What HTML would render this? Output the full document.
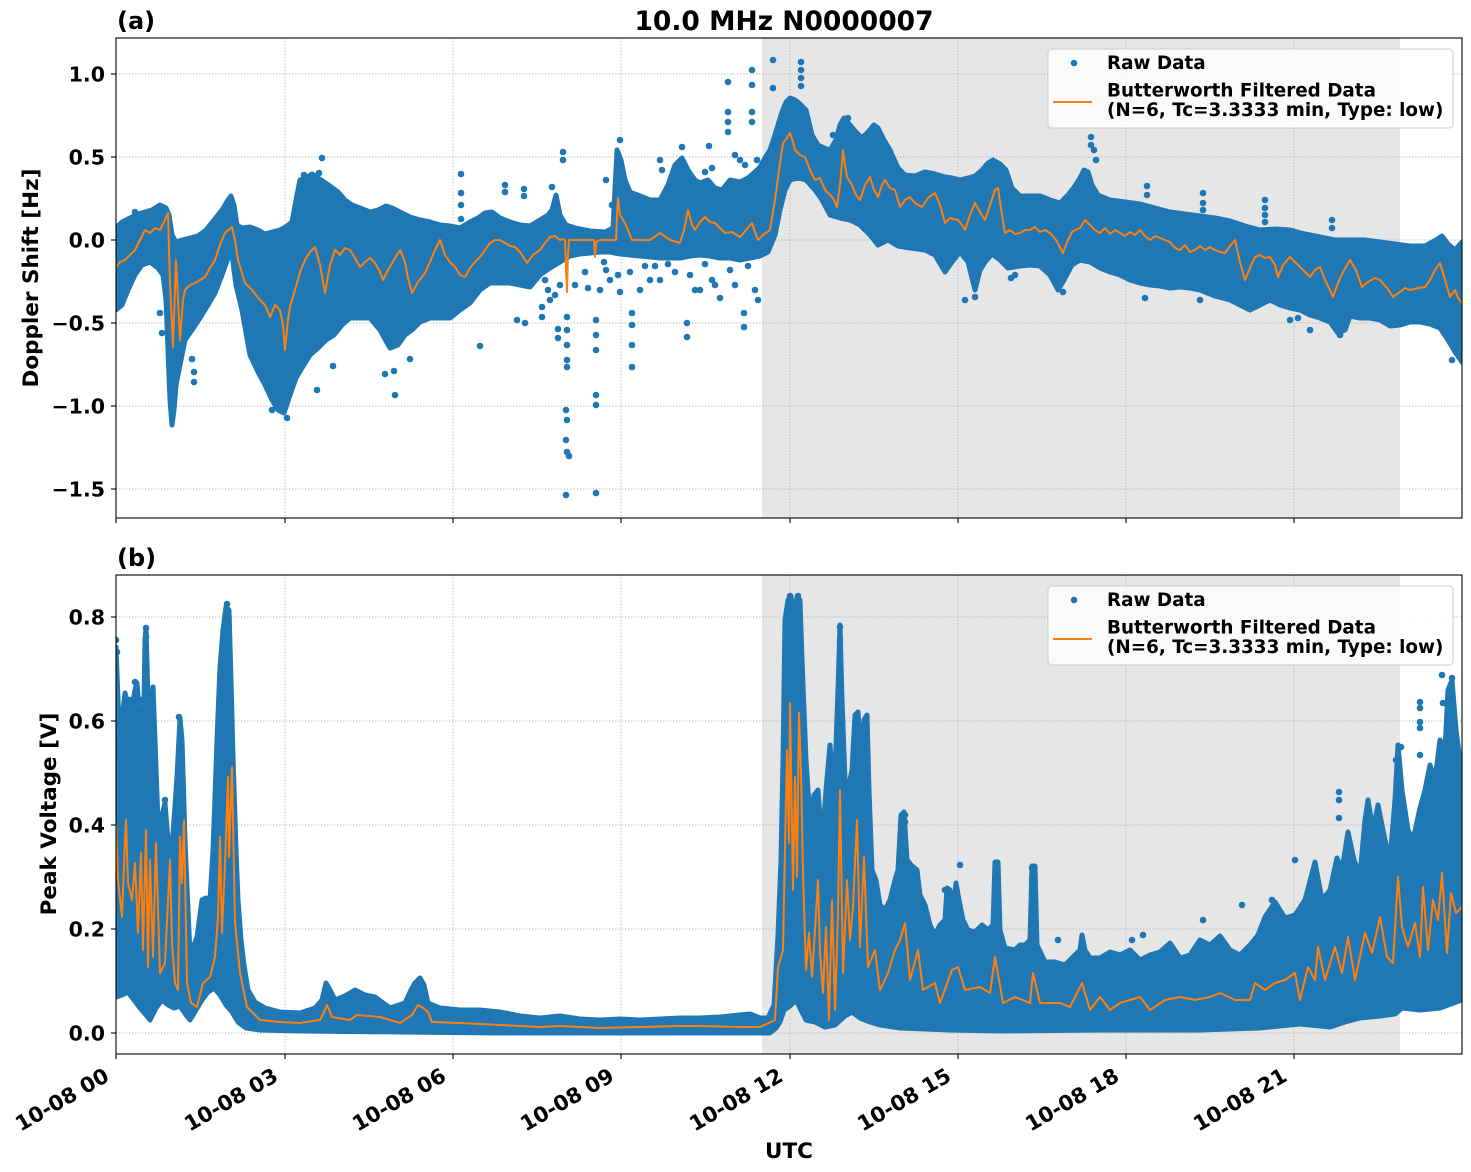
<!DOCTYPE html>
<html><head><meta charset="utf-8"><style>
html,body{margin:0;padding:0;background:#fff;}
svg{display:block;}
text{font-family:"DejaVu Sans","Liberation Sans",sans-serif;font-weight:bold;fill:#000;}
</style></head><body>
<svg width="1471" height="1172" viewBox="0 0 1471 1172" xmlns="http://www.w3.org/2000/svg">
<defs>
<clipPath id="ca"><rect x="116" y="38" width="1346" height="480"/></clipPath>
<clipPath id="cb"><rect x="116" y="575" width="1346" height="479"/></clipPath>
</defs>
<rect width="1471" height="1172" fill="#fff"/>

<!-- ===== TOP AXES ===== -->
<rect x="762" y="38" width="638" height="480" fill="#e6e6e6"/>
<g stroke="#b0b0b0" stroke-width="0.9" stroke-dasharray="1.2,2">
<line x1="285" y1="38" x2="285" y2="518"/><line x1="453" y1="38" x2="453" y2="518"/><line x1="621" y1="38" x2="621" y2="518"/><line x1="790" y1="38" x2="790" y2="518"/><line x1="958" y1="38" x2="958" y2="518"/><line x1="1126" y1="38" x2="1126" y2="518"/><line x1="1294" y1="38" x2="1294" y2="518"/>
<line x1="116" y1="74" x2="1462" y2="74"/><line x1="116" y1="157" x2="1462" y2="157"/><line x1="116" y1="240" x2="1462" y2="240"/><line x1="116" y1="323" x2="1462" y2="323"/><line x1="116" y1="406" x2="1462" y2="406"/><line x1="116" y1="489" x2="1462" y2="489"/>
</g>
<g clip-path="url(#ca)">
<polygon fill="#1f77b4" stroke="#1f77b4" stroke-width="5" stroke-linejoin="round" points="116,228 122,222 130,218 138,214 145,212 152,210 160,205 166,208 169,215 172,235 176,242 182,240 190,238 198,236 206,230 214,220 222,210 228,200 231,196 234,205 237,225 242,228 250,227 258,230 265,234 272,232 280,230 287,226 292,222 297,195 300,180 306,178 312,174 318,178 324,182 330,186 338,192 345,200 352,205 360,208 370,212 378,210 386,206 392,208 400,212 410,217 420,220 430,222 440,225 450,226 460,228 470,222 478,218 485,213 492,212 500,218 510,222 520,225 530,226 540,220 548,215 552,210 556,195 560,215 566,225 575,228 590,231 605,232 613,228 617,150 621,160 625,180 630,192 640,196 650,200 660,200 668,185 675,165 682,158 688,170 695,180 700,183 708,180 715,188 722,190 730,180 740,182 748,178 755,172 760,167 765,158 770,150 774,138 778,125 782,112 786,102 790,98 795,100 800,104 806,110 812,135 818,145 824,148 830,150 836,140 840,125 844,118 850,125 856,132 862,138 868,132 874,125 878,128 884,140 890,150 898,168 905,175 915,176 925,172 935,174 945,177 952,178 960,180 968,178 975,176 982,170 988,163 993,160 1000,164 1006,170 1012,188 1020,196 1030,196 1040,196 1050,200 1060,203 1068,195 1075,186 1080,178 1084,170 1088,172 1092,185 1098,195 1110,200 1125,202 1140,204 1155,208 1170,212 1185,214 1200,216 1215,218 1230,221 1245,226 1260,230 1275,229 1290,230 1305,234 1320,237 1335,240 1350,240 1365,240 1380,242 1395,244 1410,246 1425,246 1436,240 1442,236 1448,244 1455,250 1462,242 1466,242 1466,366 1462,362 1455,352 1448,340 1440,328 1430,324 1420,322 1410,322 1400,325 1390,326 1380,320 1370,318 1360,318 1350,316 1345,330 1338,333 1330,322 1320,318 1310,315 1300,310 1290,308 1280,305 1270,300 1260,305 1250,310 1240,305 1230,300 1215,296 1200,290 1190,288 1180,287 1170,288 1160,286 1150,285 1140,283 1130,280 1120,275 1110,272 1100,268 1090,262 1080,260 1072,265 1064,280 1058,290 1050,275 1040,266 1030,265 1020,266 1008,268 1000,260 992,254 985,262 980,270 975,290 968,262 960,252 952,262 945,272 935,255 925,250 910,248 898,246 888,240 878,245 870,235 860,225 850,220 840,218 830,215 822,200 815,190 806,180 798,178 790,180 785,190 780,210 775,235 768,252 760,256 750,258 740,260 730,258 720,258 710,256 700,255 690,256 680,258 670,258 660,258 650,257 640,256 630,255 620,254 610,252 600,252 590,253 580,254 570,256 560,262 550,268 540,275 530,287 520,285 510,283 500,283 490,283 480,290 470,303 460,310 450,318 440,318 430,318 420,322 412,330 405,335 398,345 390,348 380,330 370,318 360,318 350,318 342,325 334,335 326,340 318,348 310,355 302,368 296,378 290,395 284,413 278,410 272,400 265,385 258,372 250,355 242,310 236,285 232,255 228,258 222,275 215,293 208,305 200,318 192,330 185,340 180,365 176,385 174,410 172,425 170,400 168,350 166,300 163,275 158,268 150,262 142,265 135,275 128,290 122,305 116,310 112,310 112,228"/>
<g fill="#1f77b4">
<circle cx="322" cy="158" r="3.3"/><circle cx="319" cy="173" r="3.3"/><circle cx="304" cy="175" r="3.3"/><circle cx="461" cy="174" r="3.3"/><circle cx="461" cy="193" r="3.3"/><circle cx="461" cy="205" r="3.3"/><circle cx="461" cy="219" r="3.3"/><circle cx="505" cy="185" r="3.3"/><circle cx="505" cy="192" r="3.3"/><circle cx="524" cy="189" r="3.3"/><circle cx="524" cy="196" r="3.3"/><circle cx="552" cy="187" r="3.3"/><circle cx="395" cy="395" r="3.3"/><circle cx="194" cy="382" r="3.3"/><circle cx="194" cy="372" r="3.3"/><circle cx="192" cy="359" r="3.3"/><circle cx="162" cy="333" r="3.3"/><circle cx="160" cy="313" r="3.3"/><circle cx="135" cy="212" r="3.3"/><circle cx="480" cy="346" r="3.3"/><circle cx="333" cy="366" r="3.3"/><circle cx="317" cy="390" r="3.3"/><circle cx="272" cy="410" r="3.3"/><circle cx="287" cy="418" r="3.3"/><circle cx="385" cy="374" r="3.3"/><circle cx="394" cy="371" r="3.3"/><circle cx="410" cy="359" r="3.3"/><circle cx="558" cy="329" r="3.3"/><circle cx="558" cy="338" r="3.3"/><circle cx="542" cy="307" r="3.3"/><circle cx="542" cy="317" r="3.3"/><circle cx="517" cy="320" r="3.3"/><circle cx="525" cy="323" r="3.3"/>
<circle cx="567" cy="317" r="3.3"/><circle cx="567" cy="330" r="3.3"/><circle cx="567" cy="345" r="3.3"/><circle cx="567" cy="360" r="3.3"/><circle cx="567" cy="367" r="3.3"/><circle cx="566" cy="410" r="3.3"/><circle cx="567" cy="420" r="3.3"/><circle cx="566" cy="440" r="3.3"/><circle cx="567" cy="452" r="3.3"/><circle cx="569" cy="456" r="3.3"/><circle cx="566" cy="495" r="3.3"/><circle cx="596" cy="320" r="3.3"/><circle cx="596" cy="335" r="3.3"/><circle cx="596" cy="350" r="3.3"/><circle cx="596" cy="395" r="3.3"/><circle cx="596" cy="405" r="3.3"/><circle cx="596" cy="493" r="3.3"/><circle cx="632" cy="313" r="3.3"/><circle cx="632" cy="325" r="3.3"/><circle cx="632" cy="345" r="3.3"/><circle cx="632" cy="367" r="3.3"/><circle cx="687" cy="323" r="3.3"/><circle cx="687" cy="337" r="3.3"/><circle cx="744" cy="313" r="3.3"/><circle cx="744" cy="327" r="3.3"/>
<circle cx="728" cy="82" r="3.3"/><circle cx="728" cy="112" r="3.3"/><circle cx="728" cy="122" r="3.3"/><circle cx="728" cy="132" r="3.3"/><circle cx="752" cy="70" r="3.3"/><circle cx="752" cy="85" r="3.3"/><circle cx="752" cy="112" r="3.3"/><circle cx="752" cy="122" r="3.3"/><circle cx="773" cy="60" r="3.3"/><circle cx="773" cy="88" r="3.3"/><circle cx="801" cy="62" r="3.3"/><circle cx="801" cy="70" r="3.3"/><circle cx="801" cy="78" r="3.3"/><circle cx="801" cy="86" r="3.3"/><circle cx="620" cy="140" r="3.3"/><circle cx="682" cy="147" r="3.3"/><circle cx="709" cy="146" r="3.3"/><circle cx="548" cy="290" r="3.3"/><circle cx="555" cy="295" r="3.3"/><circle cx="575" cy="285" r="3.3"/><circle cx="600" cy="290" r="3.3"/><circle cx="640" cy="290" r="3.3"/><circle cx="660" cy="280" r="3.3"/><circle cx="700" cy="290" r="3.3"/><circle cx="715" cy="285" r="3.3"/><circle cx="720" cy="298" r="3.3"/>
<circle cx="545" cy="280" r="3.3"/><circle cx="550" cy="300" r="3.3"/><circle cx="560" cy="285" r="3.3"/><circle cx="585" cy="272" r="3.3"/><circle cx="588" cy="288" r="3.3"/><circle cx="604" cy="262" r="3.3"/><circle cx="606" cy="270" r="3.3"/><circle cx="610" cy="280" r="3.3"/><circle cx="618" cy="275" r="3.3"/><circle cx="620" cy="292" r="3.3"/><circle cx="630" cy="272" r="3.3"/><circle cx="645" cy="266" r="3.3"/><circle cx="650" cy="280" r="3.3"/><circle cx="655" cy="266" r="3.3"/><circle cx="668" cy="264" r="3.3"/><circle cx="675" cy="272" r="3.3"/><circle cx="690" cy="275" r="3.3"/><circle cx="695" cy="290" r="3.3"/><circle cx="705" cy="264" r="3.3"/><circle cx="712" cy="280" r="3.3"/><circle cx="730" cy="270" r="3.3"/><circle cx="735" cy="285" r="3.3"/><circle cx="748" cy="266" r="3.3"/><circle cx="755" cy="290" r="3.3"/><circle cx="758" cy="300" r="3.3"/>
<circle cx="563" cy="152" r="3.3"/><circle cx="563" cy="160" r="3.3"/><circle cx="606" cy="180" r="3.3"/><circle cx="612" cy="205" r="3.3"/><circle cx="660" cy="160" r="3.3"/><circle cx="662" cy="170" r="3.3"/><circle cx="676" cy="185" r="3.3"/><circle cx="705" cy="172" r="3.3"/><circle cx="712" cy="168" r="3.3"/><circle cx="735" cy="155" r="3.3"/><circle cx="740" cy="160" r="3.3"/><circle cx="745" cy="165" r="3.3"/><circle cx="757" cy="160" r="3.3"/>
<circle cx="1091" cy="137" r="3.3"/><circle cx="1091" cy="145" r="3.3"/><circle cx="1094" cy="150" r="3.3"/><circle cx="1096" cy="160" r="3.3"/><circle cx="1014" cy="193" r="3.3"/><circle cx="1147" cy="186" r="3.3"/><circle cx="1147" cy="195" r="3.3"/><circle cx="1203" cy="193" r="3.3"/><circle cx="1203" cy="203" r="3.3"/><circle cx="1203" cy="210" r="3.3"/><circle cx="1265" cy="200" r="3.3"/><circle cx="1265" cy="208" r="3.3"/><circle cx="1265" cy="215" r="3.3"/><circle cx="1265" cy="222" r="3.3"/><circle cx="1332" cy="220" r="3.3"/><circle cx="1332" cy="228" r="3.3"/><circle cx="1011" cy="278" r="3.3"/><circle cx="1015" cy="275" r="3.3"/><circle cx="1063" cy="292" r="3.3"/><circle cx="1145" cy="298" r="3.3"/><circle cx="1200" cy="300" r="3.3"/><circle cx="1298" cy="318" r="3.3"/><circle cx="965" cy="300" r="3.3"/><circle cx="975" cy="297" r="3.3"/><circle cx="1290" cy="320" r="3.3"/><circle cx="1310" cy="330" r="3.3"/><circle cx="1340" cy="335" r="3.3"/><circle cx="833" cy="135" r="3.3"/><circle cx="848" cy="118" r="3.3"/><circle cx="1440" cy="250" r="3.3"/><circle cx="1452" cy="360" r="3.3"/>
</g>
<polyline fill="none" stroke="#ff7f0e" stroke-width="2" stroke-linejoin="round" points="116,267 120,262 125,260 130,255 135,250 140,240 145,230 150,233 155,228 160,230 164,222 168,213 170,283 173,347 176,260 180,340 183,300 185,290 190,285 195,283 200,280 205,277 210,268 215,260 220,245 225,233 232,227 235,240 238,260 245,283 252,290 260,300 265,305 270,317 275,305 280,310 283,325 285,350 288,320 290,307 297,283 300,272 305,260 310,252 315,247 320,265 325,293 330,265 335,250 340,255 345,248 350,250 355,258 360,267 365,262 370,258 375,263 380,272 383,280 388,270 395,258 400,250 405,262 408,278 412,293 418,282 425,273 430,262 435,250 440,240 445,255 450,262 455,267 460,275 465,277 470,268 475,262 480,257 485,250 490,243 495,240 500,240 505,243 510,246 515,247 520,252 527,263 533,255 540,250 545,243 550,237 555,236 560,240 563,239 565,240 566,270 567,292 568,255 569,240 580,240 590,240 594,240 595,257 596,242 600,240 610,240 616,240 617,215 618,198 620,215 625,223 632,240 640,240 650,240 660,233 670,240 680,243 684,230 688,210 692,225 695,230 700,222 705,217 710,222 715,223 720,228 725,233 732,232 740,237 746,230 752,223 755,232 758,240 763,235 770,230 775,200 779,170 783,143 787,138 790,133 793,142 795,150 800,155 805,157 810,170 815,180 820,178 825,190 828,193 833,198 837,207 840,185 843,150 845,165 847,177 852,185 856,195 860,200 865,185 870,177 874,190 878,197 882,185 885,180 890,188 895,190 900,207 905,200 910,197 915,203 922,207 928,198 935,193 940,205 945,223 950,218 958,220 962,225 965,230 970,215 975,203 980,212 985,220 990,205 995,190 998,188 1002,215 1005,233 1010,230 1015,234 1020,233 1025,230 1030,230 1035,227 1040,232 1045,230 1050,233 1056,240 1063,253 1068,240 1072,232 1075,230 1080,228 1085,220 1090,225 1095,230 1100,233 1105,228 1110,234 1115,230 1120,233 1125,236 1130,232 1135,235 1140,230 1145,236 1150,240 1155,236 1160,238 1165,240 1170,242 1175,248 1180,250 1185,245 1190,252 1195,250 1200,246 1205,250 1210,247 1215,250 1220,252 1225,253 1230,246 1235,240 1240,262 1245,280 1250,268 1255,257 1260,255 1265,258 1270,257 1275,265 1278,277 1283,265 1290,257 1295,262 1300,267 1305,272 1310,277 1315,270 1320,267 1325,280 1330,290 1333,297 1338,283 1343,272 1350,260 1356,270 1362,287 1368,282 1375,278 1380,280 1387,288 1393,297 1400,292 1405,288 1410,290 1418,288 1425,287 1430,280 1435,270 1440,263 1445,280 1450,297 1455,290 1458,298 1462,303"/>
</g>
<rect x="116" y="38" width="1346" height="480" fill="none" stroke="#000" stroke-width="1.1"/>
<g stroke="#000" stroke-width="1.1">
<line x1="111" y1="74" x2="116" y2="74"/><line x1="111" y1="157" x2="116" y2="157"/><line x1="111" y1="240" x2="116" y2="240"/><line x1="111" y1="323" x2="116" y2="323"/><line x1="111" y1="406" x2="116" y2="406"/><line x1="111" y1="489" x2="116" y2="489"/>
<line x1="116" y1="518" x2="116" y2="523"/><line x1="285" y1="518" x2="285" y2="523"/><line x1="453" y1="518" x2="453" y2="523"/><line x1="621" y1="518" x2="621" y2="523"/><line x1="790" y1="518" x2="790" y2="523"/><line x1="958" y1="518" x2="958" y2="523"/><line x1="1126" y1="518" x2="1126" y2="523"/><line x1="1294" y1="518" x2="1294" y2="523"/>
</g>
<g font-size="20.5" text-anchor="end">
<text x="105" y="81.5">1.0</text><text x="105" y="164.5">0.5</text><text x="105" y="247.5">0.0</text><text x="105" y="330.5">−0.5</text><text x="105" y="413.5">−1.0</text><text x="105" y="496.5">−1.5</text>
</g>
<text font-size="21.5" text-anchor="middle" transform="translate(38,278) rotate(-90)">Doppler Shift [Hz]</text>
<text x="117" y="29" font-size="24">(a)</text>
<text x="784" y="30" font-size="26.5" text-anchor="middle">10.0 MHz N0000007</text>
<!-- legend a -->
<rect x="1048" y="49" width="405" height="79" rx="4" ry="4" fill="#fff" fill-opacity="0.8" stroke="#cccccc" stroke-width="1"/>
<circle cx="1074" cy="63" r="3.3" fill="#1f77b4"/>
<line x1="1053" y1="102" x2="1092" y2="102" stroke="#ff7f0e" stroke-width="2"/>
<g font-size="18.35">
<text x="1107" y="69">Raw Data</text>
<text x="1107" y="96.5">Butterworth Filtered Data</text>
<text x="1107" y="116">(N=6, Tc=3.3333 min, Type: low)</text>
</g>

<!-- ===== BOTTOM AXES ===== -->
<rect x="762" y="575" width="638" height="479" fill="#e6e6e6"/>
<g stroke="#b0b0b0" stroke-width="0.9" stroke-dasharray="1.2,2">
<line x1="285" y1="575" x2="285" y2="1054"/><line x1="453" y1="575" x2="453" y2="1054"/><line x1="621" y1="575" x2="621" y2="1054"/><line x1="790" y1="575" x2="790" y2="1054"/><line x1="958" y1="575" x2="958" y2="1054"/><line x1="1126" y1="575" x2="1126" y2="1054"/><line x1="1294" y1="575" x2="1294" y2="1054"/>
<line x1="116" y1="617" x2="1462" y2="617"/><line x1="116" y1="721" x2="1462" y2="721"/><line x1="116" y1="825" x2="1462" y2="825"/><line x1="116" y1="929" x2="1462" y2="929"/><line x1="116" y1="1033" x2="1462" y2="1033"/>
</g>
<g clip-path="url(#cb)">
<polygon fill="#1f77b4" stroke="#1f77b4" stroke-width="5" stroke-linejoin="round" points="112,647 116,647 118,700 120,757 123,710 125,693 128,705 132,707 135,690 137,683 140,720 143,763 145,640 146,628 148,700 150,790 152,700 153,687 155,740 158,823 162,815 165,803 168,840 170,873 174,820 177,777 180,718 182,740 185,840 188,910 190,953 194,945 197,937 202,900 206,898 210,900 213,850 215,797 217,740 220,667 223,630 226,607 229,610 231,680 233,757 236,850 238,900 241,940 244,965 248,990 255,1002 265,1008 280,1012 300,1013 315,1008 322,1000 326,983 330,990 335,1000 345,996 355,990 365,995 375,997 390,1008 405,1003 411,990 415,983 420,978 424,985 428,1003 440,1008 460,1010 480,1010 500,1012 520,1016 540,1018 560,1016 580,1019 600,1020 620,1019 640,1020 660,1019 680,1018 700,1018 720,1017 740,1015 750,1014 760,1018 768,1018 774,1005 778,935 781,860 783,760 785,620 788,600 791,596 794,612 797,598 800,600 802,660 806,760 810,820 814,795 818,790 822,845 826,790 830,745 834,800 838,690 840,625 842,700 845,780 848,790 852,770 855,715 858,712 861,760 864,720 867,715 869,790 872,870 876,880 880,905 885,910 890,900 895,880 898,870 901,815 904,812 907,860 912,866 917,870 920,895 925,905 930,925 935,935 940,925 945,920 947,888 950,890 953,915 956,883 959,900 963,920 968,930 975,932 982,925 988,930 993,925 995,862 998,862 1000,930 1005,948 1015,950 1020,945 1025,945 1030,940 1032,866 1035,866 1037,945 1045,962 1055,962 1065,965 1075,955 1080,950 1082,935 1085,950 1090,958 1100,958 1110,952 1120,955 1130,950 1140,960 1150,955 1160,952 1170,943 1180,958 1190,955 1200,940 1210,945 1220,936 1230,950 1240,955 1250,945 1258,935 1265,917 1275,902 1285,918 1295,915 1305,900 1315,862 1322,900 1330,890 1337,858 1342,870 1348,832 1354,860 1360,875 1365,820 1368,800 1373,830 1378,805 1385,840 1390,860 1395,800 1398,745 1402,790 1408,830 1413,840 1420,808 1425,790 1430,765 1435,780 1440,740 1444,770 1448,690 1452,680 1456,730 1460,760 1462,800 1466,800 1466,1000 1462,1000 1440,1008 1420,1010 1402,1008 1395,1014 1380,1016 1360,1018 1345,1022 1330,1027 1300,1024 1260,1028 1200,1030 1100,1030 1000,1031 950,1030 900,1028 880,1025 870,1022 860,1018 852,1012 845,1016 835,1025 825,1027 815,1022 806,1020 800,1008 796,1000 790,1006 784,1010 780,1022 776,1028 770,1033 700,1033 600,1033 500,1033 400,1032 300,1031 260,1030 246,1028 238,1022 232,1012 226,1005 220,995 214,988 208,992 202,1000 196,1010 190,1020 186,1015 180,1006 174,1008 168,1005 162,1000 156,1008 150,1020 146,1015 140,1008 134,1000 128,992 122,995 116,997 112,997"/>
<g fill="#1f77b4">
<circle cx="116" cy="640" r="3.3"/><circle cx="117" cy="652" r="3.3"/><circle cx="146" cy="628" r="3.3"/><circle cx="146" cy="637" r="3.3"/><circle cx="227" cy="604" r="3.3"/><circle cx="227" cy="612" r="3.3"/><circle cx="790" cy="596" r="3.3"/><circle cx="798" cy="596" r="3.3"/><circle cx="840" cy="627" r="3.3"/><circle cx="840" cy="640" r="3.3"/><circle cx="857" cy="715" r="3.3"/><circle cx="865" cy="720" r="3.3"/><circle cx="905" cy="815" r="3.3"/><circle cx="905" cy="822" r="3.3"/><circle cx="996" cy="865" r="3.3"/><circle cx="996" cy="880" r="3.3"/><circle cx="1032" cy="868" r="3.3"/><circle cx="1032" cy="880" r="3.3"/><circle cx="1442" cy="675" r="3.3"/><circle cx="1452" cy="678" r="3.3"/><circle cx="1420" cy="702" r="3.3"/><circle cx="1420" cy="708" r="3.3"/><circle cx="1420" cy="722" r="3.3"/><circle cx="1420" cy="728" r="3.3"/><circle cx="1420" cy="755" r="3.3"/><circle cx="1339" cy="792" r="3.3"/><circle cx="1339" cy="800" r="3.3"/><circle cx="1339" cy="818" r="3.3"/><circle cx="1401" cy="747" r="3.3"/><circle cx="1396" cy="760" r="3.3"/><circle cx="1443" cy="703" r="3.3"/><circle cx="1452" cy="693" r="3.3"/><circle cx="1452" cy="703" r="3.3"/><circle cx="1452" cy="720" r="3.3"/><circle cx="1442" cy="743" r="3.3"/><circle cx="1295" cy="860" r="3.3"/><circle cx="1272" cy="900" r="3.3"/><circle cx="1242" cy="905" r="3.3"/><circle cx="1203" cy="920" r="3.3"/><circle cx="1143" cy="935" r="3.3"/><circle cx="1132" cy="940" r="3.3"/><circle cx="1058" cy="940" r="3.3"/><circle cx="1018" cy="948" r="3.3"/><circle cx="960" cy="865" r="3.3"/><circle cx="945" cy="890" r="3.3"/><circle cx="165" cy="800" r="3.3"/><circle cx="179" cy="717" r="3.3"/><circle cx="130" cy="700" r="3.3"/><circle cx="135" cy="682" r="3.3"/><circle cx="140" cy="700" r="3.3"/>
</g>
<polyline fill="none" stroke="#ff7f0e" stroke-width="2" stroke-linejoin="round" points="116,823 118,880 122,917 125,840 126,820 128,883 132,900 135,863 138,933 141,853 143,950 146,830 148,967 150,860 153,957 156,843 160,973 165,963 168,900 170,860 172,943 175,983 178,990 180,837 182,883 184,820 187,983 191,1003 197,1007 203,983 210,977 215,957 218,917 220,837 222,933 225,863 228,777 229,857 232,767 235,923 240,973 247,1007 253,1013 260,1020 280,1022 300,1023 320,1020 324,1012 327,1005 332,1017 350,1020 357,1015 380,1017 400,1023 412,1015 418,1005 423,1008 428,1012 432,1022 460,1023 500,1025 540,1027 560,1026 600,1028 640,1027 680,1026 700,1026 740,1027 760,1027 775,1020 778,967 783,950 785,847 787,750 789,843 790,703 793,890 795,777 797,877 799,713 801,773 803,873 806,970 809,933 812,977 815,930 818,880 820,953 823,993 826,927 829,1020 832,900 835,1010 838,913 840,790 843,973 847,880 850,940 853,907 857,820 860,947 864,857 868,967 875,950 880,990 888,973 895,950 900,940 905,923 910,980 918,950 923,990 935,983 940,1003 952,970 958,967 965,990 980,987 990,993 995,957 1003,1003 1015,997 1030,1003 1033,973 1040,1003 1060,1003 1070,1007 1082,983 1090,1010 1100,997 1110,1010 1120,1003 1130,1000 1140,997 1150,1010 1165,1000 1180,997 1195,1000 1210,997 1220,993 1235,1000 1250,1000 1255,983 1265,990 1275,983 1285,980 1295,973 1300,1000 1308,967 1315,980 1318,947 1325,980 1335,947 1342,973 1348,937 1355,980 1365,933 1372,953 1380,917 1387,957 1393,963 1398,877 1402,927 1408,947 1415,923 1420,957 1423,887 1428,950 1433,900 1438,920 1442,873 1447,953 1451,893 1456,913 1462,907"/>
</g>
<rect x="116" y="575" width="1346" height="479" fill="none" stroke="#000" stroke-width="1.1"/>
<g stroke="#000" stroke-width="1.1">
<line x1="111" y1="617" x2="116" y2="617"/><line x1="111" y1="721" x2="116" y2="721"/><line x1="111" y1="825" x2="116" y2="825"/><line x1="111" y1="929" x2="116" y2="929"/><line x1="111" y1="1033" x2="116" y2="1033"/>
<line x1="116" y1="1054" x2="116" y2="1059"/><line x1="285" y1="1054" x2="285" y2="1059"/><line x1="453" y1="1054" x2="453" y2="1059"/><line x1="621" y1="1054" x2="621" y2="1059"/><line x1="790" y1="1054" x2="790" y2="1059"/><line x1="958" y1="1054" x2="958" y2="1059"/><line x1="1126" y1="1054" x2="1126" y2="1059"/><line x1="1294" y1="1054" x2="1294" y2="1059"/>
</g>
<g font-size="20.5" text-anchor="end">
<text x="105" y="624.5">0.8</text><text x="105" y="728.5">0.6</text><text x="105" y="832.5">0.4</text><text x="105" y="936.5">0.2</text><text x="105" y="1040.5">0.0</text>
</g>
<text font-size="21.5" text-anchor="middle" transform="translate(56,814) rotate(-90)">Peak Voltage [V]</text>
<text x="117" y="566" font-size="24">(b)</text>
<!-- legend b -->
<rect x="1048" y="586" width="405" height="79" rx="4" ry="4" fill="#fff" fill-opacity="0.8" stroke="#cccccc" stroke-width="1"/>
<circle cx="1074" cy="600" r="3.3" fill="#1f77b4"/>
<line x1="1053" y1="639" x2="1092" y2="639" stroke="#ff7f0e" stroke-width="2"/>
<g font-size="18.35">
<text x="1107" y="606">Raw Data</text>
<text x="1107" y="633.5">Butterworth Filtered Data</text>
<text x="1107" y="653">(N=6, Tc=3.3333 min, Type: low)</text>
</g>
<!-- x tick labels -->
<g font-size="21" text-anchor="end">
<text transform="translate(110.5,1080) rotate(-30)">10-08 00</text>
<text transform="translate(279.5,1080) rotate(-30)">10-08 03</text>
<text transform="translate(447.5,1080) rotate(-30)">10-08 06</text>
<text transform="translate(615.5,1080) rotate(-30)">10-08 09</text>
<text transform="translate(784.5,1080) rotate(-30)">10-08 12</text>
<text transform="translate(952.5,1080) rotate(-30)">10-08 15</text>
<text transform="translate(1120.5,1080) rotate(-30)">10-08 18</text>
<text transform="translate(1288.5,1080) rotate(-30)">10-08 21</text>
</g>
<text x="789" y="1158" font-size="21.5" text-anchor="middle">UTC</text>
</svg>
</body></html>
